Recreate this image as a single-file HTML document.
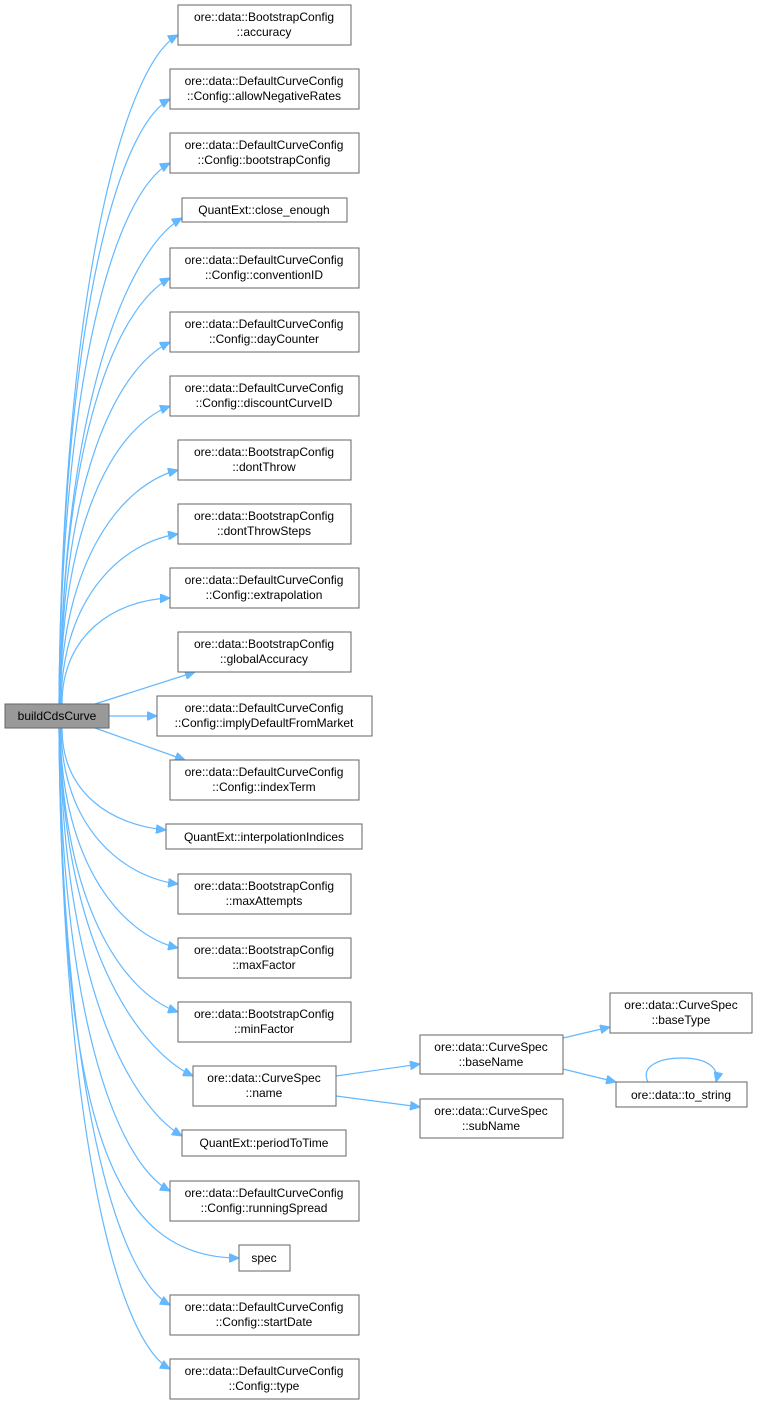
<!DOCTYPE html>
<html><head><meta charset="utf-8"><style>
html,body{margin:0;padding:0;background:#fff;}
svg{display:block;}
text{font-family:"Liberation Sans",Arial,sans-serif;font-size:12px;fill:#000;text-anchor:middle;}
rect{fill:#fff;stroke:#666;stroke-width:1;}
path.e{fill:none;stroke:#63b8ff;stroke-width:1.2;}
</style></head><body>
<svg width="759" height="1405" viewBox="0 0 759 1405" xmlns="http://www.w3.org/2000/svg">
<defs>
<marker id="a" markerWidth="11" markerHeight="9" refX="10" refY="4.5" orient="auto" markerUnits="userSpaceOnUse">
<path d="M0,0 L10,4.5 L0,9 z" fill="#63b8ff" stroke="#63b8ff"/>
</marker>
</defs>
<g marker-end="url(#a)">
<path class="e" d="M59,704 C62,297 123,65 178,35"/>
<path class="e" d="M59,704 C62,335 115,129 170,99"/>
<path class="e" d="M59,704 C62,373 115,193 170,163"/>
<path class="e" d="M60,704 C62,408 127,250 182,218"/>
<path class="e" d="M60,704 C62,442 115,308 170,278"/>
<path class="e" d="M60,704 C62,481 115,369 170,342"/>
<path class="e" d="M60,704 C62,519 115,427 170,406"/>
<path class="e" d="M60,704 C62,558 123,484 178,470"/>
<path class="e" d="M61,704 C62,596 123,542 178,534"/>
<path class="e" d="M62,704 C62,634 115,600 170,598"/>
<path class="e" d="M95,704 L195,672"/>
<path class="e" d="M109,716 L157,716"/>
<path class="e" d="M95,728 L185,760"/>
<path class="e" d="M62,728 C62,793 111,825 166,830"/>
<path class="e" d="M61,728 C62,828 123,877 178,884"/>
<path class="e" d="M60,728 C62,866 123,935 178,948"/>
<path class="e" d="M60,728 C62,904 123,993 178,1012"/>
<path class="e" d="M60,728 C62,943 138,1050 193,1076"/>
<path class="e" d="M60,728 C62,977 127,1103 182,1136"/>
<path class="e" d="M59,728 C62,1012 115,1161 170,1191"/>
<path class="e" d="M59,728 C62,1120 110,1258 239,1258"/>
<path class="e" d="M59,728 C62,1080 115,1275 170,1305"/>
<path class="e" d="M59,728 C62,1118 115,1339 170,1369"/>
<path class="e" d="M336,1076 L420,1064"/>
<path class="e" d="M336,1096 L420,1107"/>
<path class="e" d="M563,1038 L610,1027"/>
<path class="e" d="M563,1069 L616,1082"/>
<path class="e" d="M648,1082 C640,1066 660,1058 682,1058 C704,1058 720,1066 716,1082"/>
</g>

<rect x="5" y="704" width="104" height="24" style="fill:#999"/>
<text x="57" y="720">buildCdsCurve</text>

<rect x="178" y="5" width="173" height="40"/><text x="264" y="21">ore::data::BootstrapConfig</text><text x="264" y="36">::accuracy</text>
<rect x="170" y="69" width="189" height="40"/><text x="264" y="85">ore::data::DefaultCurveConfig</text><text x="264" y="100">::Config::allowNegativeRates</text>
<rect x="170" y="133" width="189" height="40"/><text x="264" y="149">ore::data::DefaultCurveConfig</text><text x="264" y="164">::Config::bootstrapConfig</text>
<rect x="182" y="198" width="165" height="24"/><text x="264" y="214">QuantExt::close_enough</text>
<rect x="170" y="248" width="189" height="40"/><text x="264" y="264">ore::data::DefaultCurveConfig</text><text x="264" y="279">::Config::conventionID</text>
<rect x="170" y="312" width="189" height="40"/><text x="264" y="328">ore::data::DefaultCurveConfig</text><text x="264" y="343">::Config::dayCounter</text>
<rect x="170" y="376" width="189" height="40"/><text x="264" y="392">ore::data::DefaultCurveConfig</text><text x="264" y="407">::Config::discountCurveID</text>
<rect x="178" y="440" width="173" height="40"/><text x="264" y="456">ore::data::BootstrapConfig</text><text x="264" y="471">::dontThrow</text>
<rect x="178" y="504" width="173" height="40"/><text x="264" y="520">ore::data::BootstrapConfig</text><text x="264" y="535">::dontThrowSteps</text>
<rect x="170" y="568" width="189" height="40"/><text x="264" y="584">ore::data::DefaultCurveConfig</text><text x="264" y="599">::Config::extrapolation</text>
<rect x="178" y="632" width="173" height="40"/><text x="264" y="648">ore::data::BootstrapConfig</text><text x="264" y="663">::globalAccuracy</text>
<rect x="157" y="696" width="215" height="40"/><text x="264" y="712">ore::data::DefaultCurveConfig</text><text x="264" y="727">::Config::implyDefaultFromMarket</text>
<rect x="170" y="760" width="189" height="40"/><text x="264" y="776">ore::data::DefaultCurveConfig</text><text x="264" y="791">::Config::indexTerm</text>
<rect x="166" y="824" width="196" height="25"/><text x="264" y="841">QuantExt::interpolationIndices</text>
<rect x="178" y="874" width="173" height="40"/><text x="264" y="890">ore::data::BootstrapConfig</text><text x="264" y="905">::maxAttempts</text>
<rect x="178" y="938" width="173" height="40"/><text x="264" y="954">ore::data::BootstrapConfig</text><text x="264" y="969">::maxFactor</text>
<rect x="178" y="1002" width="173" height="40"/><text x="264" y="1018">ore::data::BootstrapConfig</text><text x="264" y="1033">::minFactor</text>
<rect x="193" y="1066" width="143" height="40"/><text x="264" y="1082">ore::data::CurveSpec</text><text x="264" y="1097">::name</text>
<rect x="182" y="1130" width="164" height="26"/><text x="264" y="1147">QuantExt::periodToTime</text>
<rect x="170" y="1181" width="189" height="40"/><text x="264" y="1197">ore::data::DefaultCurveConfig</text><text x="264" y="1212">::Config::runningSpread</text>
<rect x="239" y="1245" width="51" height="26"/><text x="264" y="1262">spec</text>
<rect x="170" y="1295" width="189" height="40"/><text x="264" y="1311">ore::data::DefaultCurveConfig</text><text x="264" y="1326">::Config::startDate</text>
<rect x="170" y="1359" width="189" height="40"/><text x="264" y="1375">ore::data::DefaultCurveConfig</text><text x="264" y="1390">::Config::type</text>

<rect x="420" y="1035" width="143" height="39"/><text x="491" y="1051">ore::data::CurveSpec</text><text x="491" y="1066">::baseName</text>
<rect x="420" y="1099" width="143" height="39"/><text x="491" y="1115">ore::data::CurveSpec</text><text x="491" y="1130">::subName</text>
<rect x="610" y="993" width="142" height="40"/><text x="681" y="1009">ore::data::CurveSpec</text><text x="681" y="1024">::baseType</text>
<rect x="616" y="1082" width="131" height="25"/><text x="681" y="1099">ore::data::to_string</text>
</svg>
</body></html>
